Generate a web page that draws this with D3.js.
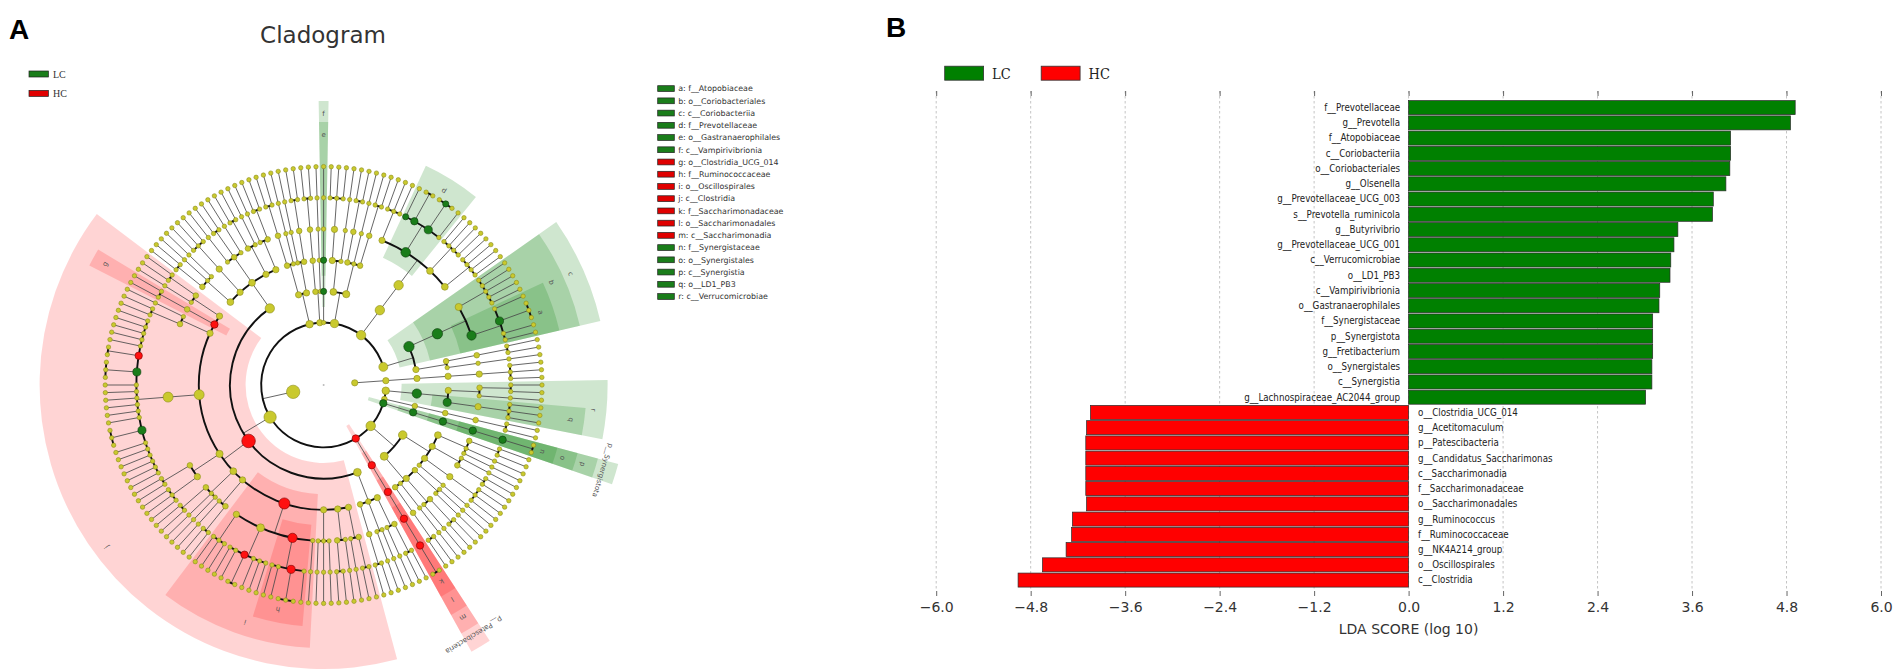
<!DOCTYPE html>
<html>
<head>
<meta charset="utf-8">
<script src="https://cdn.jsdelivr.net/npm/d3@7"></script>
<style>
  body { margin: 0; background: #fff; }
  svg { display: block; }
</style>
</head>
<body>
<svg id="fig" width="1904" height="671"></svg>
<script>
// ---------- panel B : LDA scores ----------
let lcTaxa = ["f__Prevotellaceae", "g__Prevotella", "f__Atopobiaceae", "c__Coriobacteriia", "o__Coriobacteriales",
    "g__Olsenella", "g__Prevotellaceae_UCG_003", "s__Prevotella_ruminicola", "g__Butyrivibrio", "g__Prevotellaceae_UCG_001",
    "c__Verrucomicrobiae", "o__LD1_PB3", "c__Vampirivibrionia", "o__Gastranaerophilales", "f__Synergistaceae",
    "p__Synergistota", "g__Fretibacterium", "o__Synergistales", "c__Synergistia", "g__Lachnospiraceae_AC2044_group"]
let lcScores = [4.91, 4.85, 4.09, 4.09, 4.08, 4.03, 3.87, 3.86, 3.42, 3.37, 3.33, 3.32, 3.19, 3.18, 3.10, 3.10, 3.10, 3.09, 3.09, 3.01]
let hcTaxa = ["o__Clostridia_UCG_014", "g__Acetitomaculum", "p__Patescibacteria", "g__Candidatus_Saccharimonas",
    "c__Saccharimonadia", "f__Saccharimonadaceae", "o__Saccharimonadales", "g__Ruminococcus", "f__Ruminococcaceae",
    "g__NK4A214_group", "o__Oscillospirales", "c__Clostridia"]
let hcScores = [-4.04, -4.09, -4.10, -4.10, -4.10, -4.10, -4.09, -4.27, -4.28, -4.35, -4.65, -4.96]
let xTicks = [-6.0, -4.8, -3.6, -2.4, -1.2, 0.0, 1.2, 2.4, 3.6, 4.8, 6.0]
let groups = ["LC", "HC"]

// ---------- panel A : cladogram ----------
// node = [name, ...children]; a number k = unnamed lineage ending in k genera of one species each
let cladeLetters = ["a", "b", "c", "d", "e", "f", "g", "h", "i", "j", "k", "l", "m", "n", "o", "p", "q", "r"]
let cladeNames = ["f__Atopobiaceae", "o__Coriobacteriales", "c__Coriobacteriia", "f__Prevotellaceae", "o__Gastranaerophilales",
    "c__Vampirivibrionia", "o__Clostridia_UCG_014", "f__Ruminococcaceae", "o__Oscillospirales", "c__Clostridia",
    "f__Saccharimonadaceae", "o__Saccharimonadales", "c__Saccharimonadia", "f__Synergistaceae", "o__Synergistales",
    "c__Synergistia", "o__LD1_PB3", "c__Verrucomicrobiae"]

let archaea = ["k__Archaea", 3]
let verrucomicrobiota = ["p__Verrucomicrobiota", ["c__Verrucomicrobiae", ["", 2, 1], ["o__LD1_PB3", 3]]]
let smallPhylum1 = ["", 2]
let synergistota = ["p__Synergistota", ["c__Synergistia", ["o__Synergistales", ["f__Synergistaceae", ["g__Fretibacterium", 2]]]]]
let proteobacteria = ["p__Proteobacteria", ["", ["", 2, 1, 1], ["", 1, 2], ["", 3], 1], ["", ["", 1, 1], ["", 2, 1], 1, 2]]
let patescibacteria = ["p__Patescibacteria", ["c__Saccharimonadia", ["o__Saccharimonadales",
    ["f__Saccharimonadaceae", ["g__Candidatus_Saccharimonas", 2]]]]]
let firmicutes = ["p__Firmicutes",
    ["c__Bacilli", ["", 2, 1], ["", 1, 1], 2],
    ["c__Clostridia",
        ["", 2, 1], ["", 1, 2], ["", 1, 1, 1],
        ["o__Oscillospirales", 1,
            ["f__Ruminococcaceae", 1, ["g__Ruminococcus", 3], 2],
            ["", 1, 2, ["g__NK4A214_group", 2], 2],
            ["", 2, 1]],
        ["", 2, 1], ["", 1, 1, 2], ["", 3, 2],
        ["o__Lachnospirales", ["f__Lachnospiraceae", 2, 1, 2, 1, ["g__Lachnospiraceae_AC2044_group", 3], 1, 2, 1, 1, 1,
            ["g__Butyrivibrio", 3], ["g__Acetitomaculum", 2], 1, 2, 2]],
        ["", 2, 1], ["o__Clostridia_UCG_014", 2], ["", 1, 2]],
    ["", ["", 2, 1, 1], ["", 3], ["", 1, 2, 1], ["", 2, 1], ["", 1, 2]]]
let smallPhylum2 = ["", ["", 2, 1], ["", 1, 2]]
let smallPhylum3 = ["", 2, 1]
let cyanobacteria = ["p__Cyanobacteria", ["c__Vampirivibrionia", ["o__Gastranaerophilales", 1]]]
let smallPhylum4 = ["", ["", 3, 1], ["", 2, 1, 2]]
let bacteroidota = ["p__Bacteroidota", ["c__Bacteroidia", ["o__Bacteroidales",
    ["", 2, 1],
    ["f__Prevotellaceae", ["g__Prevotellaceae_UCG_001", 1], ["g__Prevotellaceae_UCG_003", 2],
        ["g__Prevotella", "", "s__Prevotella_ruminicola", ""], 1],
    ["", 2, 2], ["", 1, 3]]]]
let actinobacteriota = ["p__Actinobacteriota",
    ["c__Coriobacteriia", ["o__Coriobacteriales", ["", 2, 2, 1], ["f__Atopobiaceae", 1, ["g__Olsenella", 3], 2]]],
    ["", 2, 1]]
let bacteria = ["k__Bacteria", verrucomicrobiota, smallPhylum1, synergistota, proteobacteria, patescibacteria, firmicutes,
    smallPhylum2, smallPhylum3, cyanobacteria, smallPhylum4, bacteroidota, actinobacteriota]

let colors = { LC: "#108010", HC: "#ff0000" }
let svg = d3.select("#fig")
let sans = "'DejaVu Sans', sans-serif"
let narrow = "'DejaVu Sans Condensed', 'Liberation Sans Narrow', 'DejaVu Sans', sans-serif"

// panel letters + title
svg.append("text").attr("x", 9).attr("y", 39).text("A")
    .style("font", "bold 28px 'Liberation Sans', Arial, sans-serif")
svg.append("text").attr("x", 886).attr("y", 37).text("B")
    .style("font", "bold 28px 'Liberation Sans', Arial, sans-serif")
svg.append("text").attr("x", 323).attr("y", 43).attr("text-anchor", "middle").text("Cladogram")
    .style("font", "23px " + sans).attr("fill", "#333")

// ========== cladogram ==========
function lineage(k, depth) {
    if (depth === 7) return d3.range(k).map(() => ({ name: "" }))
    if (depth === 6) return d3.range(k).map(() => ({ name: "", children: [{ name: "" }] }))
    return [{ name: "", children: lineage(k, depth + 1) }]
}
function expand(kids, depth) {
    return kids.flatMap(c => {
        if (typeof c === "number") return lineage(c, depth)
        if (typeof c === "string") return [{ name: c }]
        return [build(c, depth)]
    })
}
function build(spec, depth) {
    let [name, ...kids] = spec
    return { name: name, children: expand(kids, depth + 1) }
}

let groupOf = {}
lcTaxa.forEach(t => groupOf[t] = "LC")
hcTaxa.forEach(t => groupOf[t] = "HC")

let root = d3.hierarchy({ name: "root", children: [build(archaea, 1), build(bacteria, 1)] })
d3.cluster().size([360, 1]).separation(() => 1)(root)

let cx = 323.6, cy = 385, step = 31.2
let rot = 353
let theta = n => (n.x + rot) * Math.PI / 180
let rad = n => n.depth * step
let px = (a, r) => cx + r * Math.cos(a)
let py = (a, r) => cy + r * Math.sin(a)

let clad = svg.append("g")
let wedgeOuter = { 2: 305, 3: 284, 4: 263, 5: 242 }
let marked = root.descendants().filter(n => groupOf[n.data.name])

// shaded sectors behind the tree
let arcGen = d3.arc()
marked.filter(n => n.depth >= 2 && n.depth <= 5)
    .sort((a, b) => a.depth - b.depth)
    .forEach(n => {
        let lv = n.leaves()
        let a0 = lv[0].x + rot - 1, a1 = lv[lv.length - 1].x + rot + 1
        let g = groupOf[n.data.name]
        clad.append("path")
            .attr("transform", `translate(${cx},${cy})`)
            .attr("d", arcGen({
                innerRadius: rad(n) - step / 2, outerRadius: wedgeOuter[n.depth],
                startAngle: (a0 + 90) * Math.PI / 180, endAngle: (a1 + 90) * Math.PI / 180
            }))
            .attr("fill", colors[g])
            .attr("fill-opacity", g === "LC" ? 0.2 : 0.17)
    })

// branches
root.each(n => {
    if (n.depth < 1 || !n.children) return
    let a = theta(n), r0 = rad(n), r1 = r0 + step
    clad.append("line")
        .attr("x1", px(a, r0)).attr("y1", py(a, r0))
        .attr("x2", px(a, r1)).attr("y2", py(a, r1))
        .attr("stroke", "#4a4a4a").attr("stroke-width", 0.85)
    if (n.children.length > 1) {
        let p = d3.path()
        p.arc(cx, cy, r1, theta(n.children[0]), theta(n.children[n.children.length - 1]))
        clad.append("path").attr("d", p.toString())
            .attr("fill", "none").attr("stroke", "#111").attr("stroke-width", 1.9)
    }
})

// nodes
clad.append("circle").attr("cx", cx).attr("cy", cy).attr("r", 1).attr("fill", "#bbb")
root.descendants().filter(n => n.depth >= 1)
    .sort((a, b) => (groupOf[a.data.name] ? 1 : 0) - (groupOf[b.data.name] ? 1 : 0))
    .forEach(n => {
        let a = theta(n), r = rad(n)
        let g = groupOf[n.data.name]
        let size = 2.2 + 0.6 * Math.log2(n.leaves().length)
        clad.append("circle")
            .attr("cx", px(a, r)).attr("cy", py(a, r))
            .attr("r", g ? size + 0.9 : size)
            .attr("fill", g ? (g === "LC" ? "#1a7d1a" : "#ff1010") : "#c9c92e")
            .attr("stroke", g ? (g === "LC" ? "#0b3d0b" : "#7a0000") : "#8d8d1c")
            .attr("stroke-width", 0.6)
    })

// sector letters and phylum names
marked.filter(n => n.depth >= 2 && n.depth <= 5).forEach(n => {
    let a = theta(n)
    let deg = n.x + rot + 90
    let r = wedgeOuter[n.depth] - 13
    if (n.depth === 2) {
        clad.append("text")
            .attr("transform", `translate(${px(a, r)},${py(a, r)}) rotate(${deg})`)
            .attr("text-anchor", "middle").attr("dy", "0.35em")
            .style("font", "7px " + sans).attr("fill", "#555")
            .text(n.data.name)
    } else {
        let idx = cladeNames.indexOf(n.data.name)
        if (idx < 0) return
        clad.append("text")
            .attr("transform", `translate(${px(a, r)},${py(a, r)}) rotate(${deg})`)
            .attr("text-anchor", "middle").attr("dy", "0.35em")
            .style("font", "7px " + sans).attr("fill", "#555")
            .text(cladeLetters[idx])
    }
})

// group legend (top left)
groups.forEach((g, i) => {
    svg.append("rect").attr("x", 29).attr("y", 71).attr("width", 19.4).attr("height", 6)
        .attr("transform", `translate(0,${i * 19.4})`)
        .attr("fill", g === "LC" ? "#1a7d1a" : "#e00000").attr("stroke", "#222").attr("stroke-width", 0.7)
    svg.append("text").attr("x", 53).attr("y", 78 + i * 19.4).text(g)
        .style("font", "10px 'Liberation Serif', 'DejaVu Serif', serif").attr("fill", "#333")
})

// letter legend (right of cladogram)
cladeNames.forEach((name, i) => {
    let yy = 88.6 + i * 12.23
    let g = groupOf[name]
    svg.append("rect").attr("x", 657.7).attr("y", yy - 2.9).attr("width", 16.6).attr("height", 5.8)
        .attr("fill", g === "LC" ? "#1a7d1a" : "#e00000").attr("stroke", "#222").attr("stroke-width", 0.7)
    svg.append("text").attr("x", 678.2).attr("y", yy).attr("dy", "0.35em")
        .text(cladeLetters[i] + ": " + name)
        .style("font", "7.9px " + sans).attr("fill", "#333")
})

// ========== LDA bar chart ==========
let taxa = lcTaxa.concat(hcTaxa)
let scores = lcScores.concat(hcScores)
let x = d3.scaleLinear().domain([-6, 6]).range([936.2, 1881])
let y = d3.scaleBand().domain(taxa).range([100, 587.7]).paddingInner(0.08).paddingOuter(0.04)
let plotTop = 91, plotBottom = 591

let bars = svg.append("g")
bars.selectAll(".grid").data(xTicks).join("line")
    .attr("class", "grid")
    .attr("x1", d => x(d)).attr("x2", d => x(d))
    .attr("y1", plotTop).attr("y2", plotBottom)
    .attr("stroke", "#b5b5b5").attr("stroke-width", 0.8).attr("stroke-dasharray", "2.5,2.5")

let xAxis = d3.axisBottom(x).tickValues(xTicks).tickSize(5).tickPadding(6).tickFormat(d3.format(".1f"))
let xAxisTop = d3.axisTop(x).tickValues(xTicks).tickSize(5).tickFormat("")
let gx = bars.append("g").attr("transform", `translate(0,${plotBottom})`).call(xAxis)
let gxt = bars.append("g").attr("transform", `translate(0,${plotTop + 5})`).call(xAxisTop)
;[gx, gxt].forEach(g => {
    g.select(".domain").remove()
    g.selectAll(".tick line").attr("stroke", "#555").attr("stroke-width", 0.9)
})
gx.selectAll(".tick text").style("font", "14px " + sans).attr("fill", "#333")

bars.selectAll(".bar").data(taxa).join("rect")
    .attr("class", "bar")
    .attr("x", (d, i) => x(Math.min(0, scores[i])))
    .attr("width", (d, i) => Math.abs(x(scores[i]) - x(0)))
    .attr("y", d => y(d))
    .attr("height", y.bandwidth())
    .attr("fill", d => groupOf[d] === "LC" ? "#008000" : "#ff0000")
    .attr("stroke", "#2a2a2a").attr("stroke-width", 0.7)

bars.selectAll(".lab").data(taxa).join("text")
    .attr("class", "lab")
    .attr("x", (d, i) => scores[i] > 0 ? x(0) - 8.5 : x(0) + 9.5)
    .attr("y", d => y(d) + y.bandwidth() / 2)
    .attr("dy", "0.35em")
    .attr("text-anchor", (d, i) => scores[i] > 0 ? "end" : "start")
    .style("font", "9.7px " + narrow).style("font-stretch", "condensed")
    .attr("fill", "#222")
    .text(d => d)

svg.append("text").attr("x", x(0)).attr("y", 634).attr("text-anchor", "middle")
    .text("LDA SCORE (log 10)").style("font", "14px " + sans).attr("fill", "#333")

groups.forEach((g, i) => {
    svg.append("rect").attr("x", 944.7 + i * 96.5).attr("y", 66.2).attr("width", 38.9).attr("height", 14)
        .attr("fill", g === "LC" ? "#008000" : "#ff0000").attr("stroke", "#333").attr("stroke-width", 0.8)
    svg.append("text").attr("x", 992 + i * 96.5).attr("y", 79).text(g)
        .style("font", "14.5px 'DejaVu Serif Condensed', 'DejaVu Serif', serif").style("font-stretch", "condensed")
        .attr("fill", "#222")
})
</script>
</body>
</html>
